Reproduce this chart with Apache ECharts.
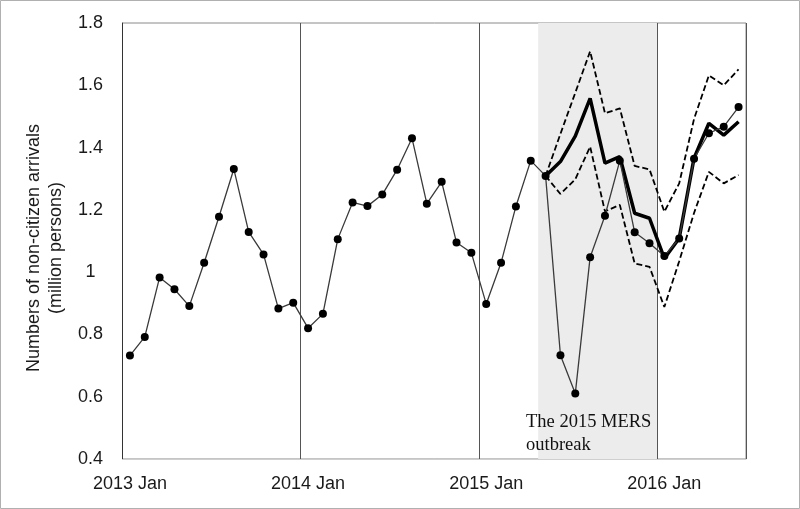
<!DOCTYPE html>
<html>
<head>
<meta charset="utf-8">
<script src="https://cdn.jsdelivr.net/npm/echarts@6/dist/echarts.min.js"></script>
<style>html,body{margin:0;padding:0;background:#fff}#c{width:800px;height:509px}</style>
</head>
<body>
<div id="c"></div>
<script>
// ---- data ----
const years = [2013, 2014, 2015, 2016];
const monthNames = ['Jan','Feb','Mar','Apr','May','Jun','Jul','Aug','Sep','Oct','Nov','Dec'];
const nMonths = 42; // 2013 Jan .. 2016 Jun
const yTicks = [0.4, 0.6, 0.8, 1, 1.2, 1.4, 1.6, 1.8];

// observed monthly non-citizen arrivals (million persons)
const actual = [
  0.732, 0.792, 0.983, 0.945, 0.891, 1.030, 1.178, 1.331, 1.129, 1.057, 0.883, 0.902,
  0.820, 0.866, 1.106, 1.224, 1.212, 1.249, 1.329, 1.430, 1.220, 1.290, 1.095, 1.062,
  0.898, 1.030, 1.211, 1.358, 1.309, 0.733, 0.610, 1.048, 1.181, 1.358, 1.128, 1.093,
  1.052, 1.108, 1.364, 1.446, 1.467, 1.530
];
// counterfactual forecast, 2015 May .. 2016 Jun
const forecastStart = 28;
const forecast = [1.309, 1.355, 1.437, 1.558, 1.350, 1.371, 1.189, 1.173, 1.044, 1.109, 1.366, 1.478, 1.440, 1.483];
const upper    = [1.309, 1.444, 1.576, 1.709, 1.510, 1.526, 1.341, 1.330, 1.194, 1.285, 1.492, 1.632, 1.600, 1.651];
const lower    = [1.309, 1.251, 1.298, 1.403, 1.195, 1.216, 1.028, 1.017, 0.888, 1.035, 1.190, 1.322, 1.285, 1.312];
// MERS outbreak period (category band indices)
const mersStart = 28, mersEnd = 36;
const mersLabel = 'The 2015 MERS\noutbreak';

// ---- build ----
const categories = [];
for (let i = 0; i < nMonths; i++) {
  const y = years[Math.floor(i / 12)];
  categories.push(y + ' ' + monthNames[i % 12]);
}
const pad = arr => new Array(forecastStart).fill(null).concat(arr);

const chart = echarts.init(document.getElementById('c'), null, {renderer: 'canvas'});
const sans = '"Liberation Sans", Arial, sans-serif';
chart.setOption({
  animation: false,
  backgroundColor: '#fff',
  grid: {left: 122.5, right: 54, top: 23, bottom: 50, show: true, borderColor: '#8a8a8a', borderWidth: 1, backgroundColor: 'transparent'},
  xAxis: [{
    type: 'category', data: categories, boundaryGap: true,
    axisLine: {show: true, lineStyle: {color: '#cfcfcf', width: 1}},
    axisTick: {show: false},
    axisLabel: {interval: (i) => i % 12 === 0, color: '#1a1a1a', fontFamily: sans, fontSize: 18, margin: 16},
    splitLine: {show: true, interval: (i) => i % 12 === 0, lineStyle: {color: '#555', width: 1}}
  }, {
    type: 'value', min: 0, max: nMonths, show: false
  }],
  yAxis: {
    type: 'value', min: yTicks[0], max: yTicks[yTicks.length - 1], interval: 0.2,
    axisLine: {show: true, lineStyle: {color: '#333', width: 1}},
    axisTick: {show: false},
    splitLine: {show: false},
    axisLabel: {color: '#1a1a1a', fontFamily: sans, fontSize: 18, align: 'center', margin: 32,
      formatter: v => String(Math.round(v * 10) / 10)},
    name: 'Numbers of non-citizen arrivals\n(million persons)',
    nameLocation: 'middle', nameGap: 49,
    nameTextStyle: {color: '#1a1a1a', fontFamily: sans, fontSize: 18, lineHeight: 22, padding: [0, 14, 0, 0]}
  },
  series: [
    {
      type: 'line', xAxisIndex: 1, data: [], silent: true,
      markArea: {silent: true, itemStyle: {color: '#ececec'}, data: [[{xAxis: mersStart}, {xAxis: mersEnd}]]}
    },
    {
      name: 'upper', type: 'line', data: pad(upper), showSymbol: false, symbol: 'none',
      lineStyle: {color: '#000', width: 1.8, type: [6, 3]}, z: 3
    },
    {
      name: 'lower', type: 'line', data: pad(lower), showSymbol: false, symbol: 'none',
      lineStyle: {color: '#000', width: 1.8, type: [6, 3]}, z: 3
    },
    {
      name: 'forecast', type: 'line', data: pad(forecast), showSymbol: false, symbol: 'none',
      lineStyle: {color: '#000', width: 3.5}, z: 4
    },
    {
      name: 'actual', type: 'line', data: actual, symbol: 'circle', symbolSize: 8,
      itemStyle: {color: '#000'}, lineStyle: {color: '#3a3a3a', width: 1.3}, z: 5
    }
  ],
  graphic: [
    {type: 'text', left: 526, top: 411, z: 10,
      style: {text: mersLabel, font: '18.5px "Liberation Serif", "Times New Roman", serif', fill: '#111', lineHeight: 23}},
    {type: 'rect', shape: {x: 0.5, y: 0.5, width: 799, height: 508}, z: 20,
      style: {fill: 'none', stroke: '#b0b0b0', lineWidth: 1}}
  ]
});
</script>
</body>
</html>
